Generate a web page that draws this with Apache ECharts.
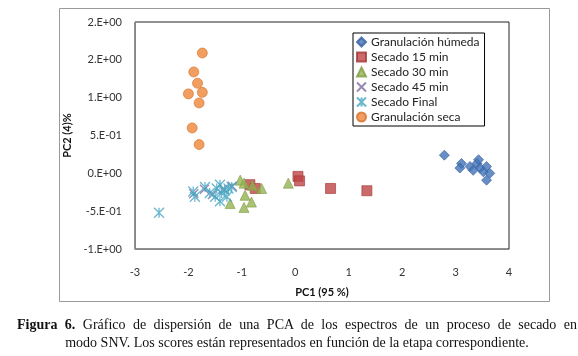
<!DOCTYPE html>
<html>
<head>
<meta charset="utf-8">
<script src="https://cdn.jsdelivr.net/npm/echarts@6/dist/echarts.min.js"></script>
<style>
  html, body { margin: 0; padding: 0; background: #fff; }
  #wrap { position: relative; width: 578px; height: 356px; }
  #chart { width: 578px; height: 356px; }
  .cap {
    position: absolute; left: 17px; width: 560px;
    font: 14px "Liberation Serif", "DejaVu Serif", serif; color: #111;
    line-height: 18px; white-space: nowrap;
  }
  #cap1 { top: 316px; text-align: justify; text-align-last: justify; }
  #cap2 { top: 334px; left: 0; width: 594px; text-align: center; }
</style>
</head>
<body>
<div id="wrap">
  <div id="chart"></div>
  <div class="cap" id="cap1"><b>Figura 6.</b> Gráfico de dispersión de una PCA de los espectros de un proceso de secado en</div>
  <div class="cap" id="cap2">modo SNV. Los scores están representados en función de la etapa correspondiente.</div>
</div>
<script>
// axis ticks
const xTicks = [-3, -2, -1, 0, 1, 2, 3, 4];
const yTicks = [-1, -0.5, 0, 0.5, 1, 1.5, 2];

// scores [PC1, PC2]
const granHumeda = [
  [2.79, 0.24], [3.11, 0.13], [3.08, 0.07], [3.27, 0.09], [3.40, 0.13], [3.43, 0.18],
  [3.46, 0.07], [3.52, 0.02], [3.58, 0.09], [3.64, 0.00], [3.58, -0.09], [3.33, 0.04]
];
const secado15 = [
  [-0.85, -0.15], [-0.75, -0.20], [0.05, -0.04], [0.08, -0.10], [0.66, -0.20], [1.34, -0.23]
];
const secado30 = [
  [-1.03, -0.09], [-0.96, -0.13], [-0.80, -0.16], [-0.63, -0.20], [-0.94, -0.29],
  [-1.22, -0.40], [-0.82, -0.38], [-0.96, -0.45], [-0.13, -0.13]
];
const secado45 = [
  [-1.90, -0.27], [-1.70, -0.21], [-1.55, -0.28], [-1.35, -0.21], [-1.18, -0.17]
];
const secadoFinal = [
  [-2.55, -0.52], [-1.88, -0.31], [-1.91, -0.24], [-1.69, -0.18], [-1.60, -0.26],
  [-1.47, -0.20], [-1.41, -0.15], [-1.38, -0.26], [-1.32, -0.22], [-1.25, -0.20],
  [-1.41, -0.37], [-1.50, -0.31], [-1.19, -0.18], [-1.28, -0.31]
];
const granSeca = [
  [-1.74, 1.59], [-1.90, 1.34], [-1.83, 1.19], [-1.74, 1.07], [-2.00, 1.05],
  [-1.80, 0.93], [-1.93, 0.60], [-1.80, 0.38]
];

const seriesNames = ['Granulación húmeda', 'Secado 15 min', 'Secado 30 min', 'Secado 45 min', 'Secado Final', 'Granulación seca'];
const seriesData = [granHumeda, secado15, secado30, secado45, secadoFinal, granSeca];
const colors = ['#4173B8', '#BE4545', '#93B353', '#7E6AA0', '#46A6C2', '#EE8638'];
const borders = ['#355F9C', '#A33636', '#7F9C45', '#7E6AA0', '#46A6C2', '#D4712A'];

const xMark = 'path://M0,0L10,10M10,0L0,10';
const starMark = 'path://M0,0L10,10M10,0L0,10M5,0L5,10';
const symbols = ['diamond', 'rect', 'triangle', xMark, starMark, 'circle'];
const sizes = [10, 10, 10, 9, 10, 10];

const font = 'Lato, "Open Sans", sans-serif';

function sci(v) {
  const parts = v.toExponential(0).split('e');
  const n = parseInt(parts[1], 10);
  return parts[0] + '.E' + (n < 0 ? '-' : '+') + String(Math.abs(n)).padStart(2, '0');
}

const chart = echarts.init(document.getElementById('chart'));

chart.setOption({
  animation: false,
  backgroundColor: '#fff',
  grid: { left: 135, top: 22, width: 374, height: 227, show: true, borderColor: '#222', borderWidth: 1 },
  xAxis: {
    type: 'value',
    min: xTicks[0], max: xTicks[xTicks.length - 1], interval: 1,
    name: 'PC1 (95 %)', nameLocation: 'middle', nameGap: 38,
    nameTextStyle: { fontFamily: font, fontSize: 11, fontWeight: 'bold', color: '#111' },
    axisLine: { onZero: false, lineStyle: { color: '#888' } },
    axisTick: { show: false },
    splitLine: { show: false },
    axisLabel: { margin: 18, fontFamily: font, fontSize: 11, color: '#333' }
  },
  yAxis: {
    type: 'value',
    min: yTicks[0], max: yTicks[yTicks.length - 1], interval: 0.5,
    name: 'PC2 (4)%', nameLocation: 'middle', nameGap: 48, nameRotate: 90,
    nameTextStyle: { fontFamily: font, fontSize: 11, fontWeight: 'bold', color: '#111' },
    axisLine: { show: true, onZero: false, lineStyle: { color: '#888' } },
    axisTick: { show: false },
    splitLine: { show: false },
    axisLabel: { margin: 13, fontFamily: font, fontSize: 11, color: '#333', formatter: sci }
  },
  legend: {
    orient: 'vertical', left: 353, top: 33,
    backgroundColor: '#fff', borderColor: '#000', borderWidth: 1,
    padding: [3, 5, 3, 3], itemGap: 3, itemWidth: 9, itemHeight: 9,
    textStyle: { fontFamily: font, fontSize: 12, color: '#222', lineHeight: 12 },
    data: seriesNames
  },
  series: seriesNames.map((name, i) => ({
    name: name,
    type: 'scatter',
    symbol: symbols[i],
    symbolSize: sizes[i],
    data: seriesData[i],
    itemStyle: (i === 3 || i === 4)
      ? { color: colors[i], borderColor: colors[i], borderWidth: 1.3 }
      : { color: colors[i], borderColor: borders[i], borderWidth: 0.8 }
  })),
  graphic: [
    {
      type: 'rect', silent: true, z: -1,
      shape: { x: 59.5, y: 8.5, width: 490, height: 293 },
      style: { fill: 'none', stroke: '#999', lineWidth: 1 }
    }
  ]
});
</script>
</body>
</html>
